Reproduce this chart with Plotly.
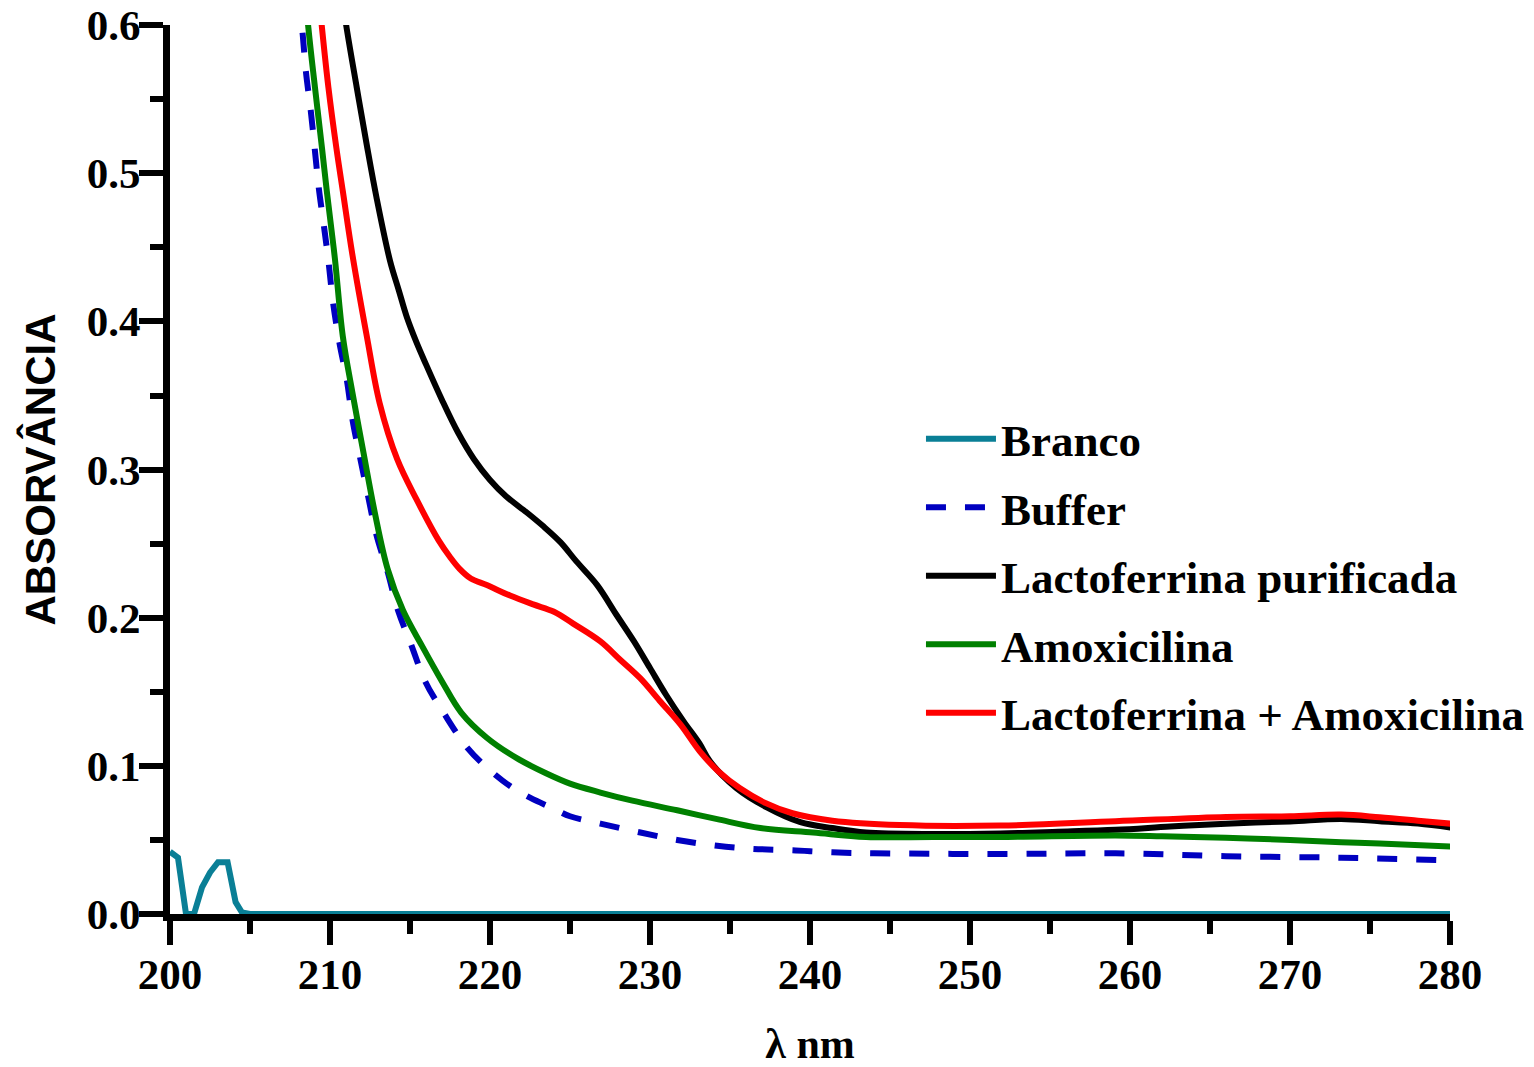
import plotly.graph_objects as go

# Branco
branco_x = [200, 200.5, 201, 201.5, 202, 202.5, 203, 203.6, 204.1, 204.5, 205, 280]
branco_y = [0.042, 0.038, 0.0, 0.0, 0.018, 0.028, 0.035, 0.035, 0.008, 0.001, 0.0, 0.0]

# Buffer
buffer_x = [207.4, 208.3, 208.5, 208.8, 209.06, 209.3, 209.6, 209.9, 210.2, 210.6, 211.06, 211.4, 211.9, 212.4, 212.9,
            213.6, 214.25, 215.1, 215.95, 217.15, 218.6, 220.0, 221.3, 222.5, 224.0, 225.0, 226.9, 229.4, 231.7, 234.2,
            236.4, 238.9, 241.4, 244.0, 251.9, 259.1, 266.0, 273.2, 280.1]
buffer_y = [0.70, 0.593, 0.568, 0.542, 0.515, 0.490, 0.466, 0.441, 0.412, 0.385, 0.360, 0.334, 0.307, 0.281, 0.256,
            0.231, 0.205, 0.181, 0.157, 0.135, 0.112, 0.097, 0.086, 0.0785, 0.071, 0.066, 0.061, 0.055, 0.050, 0.046,
            0.044, 0.043, 0.0416, 0.041, 0.0405, 0.041, 0.039, 0.038, 0.0362]

# Lactoferrina purificada
lacto_x = [209.6, 211.04, 211.67, 212.3, 212.9, 213.75, 214.3, 214.8, 215.4, 216.0, 217.0, 218.0, 219.0, 220.0, 221.0,
           222.3, 223.3, 224.4, 225.4, 226.7, 227.9, 229.0, 230.0, 231.0, 232.1, 233.1, 233.75, 235.4, 237.3, 239.4,
           241.4, 243.5, 247.7, 251.9, 255.5, 259.1, 262.5, 266.0, 270.0, 273.2, 275.6, 278.0, 280.1]
lacto_y = [0.70, 0.598, 0.558, 0.519, 0.484, 0.441, 0.421, 0.403, 0.386, 0.371, 0.347, 0.325, 0.307, 0.293, 0.282,
           0.271, 0.262, 0.251, 0.238, 0.222, 0.202, 0.184, 0.166, 0.148, 0.130, 0.115, 0.103, 0.085, 0.072, 0.062,
           0.058, 0.055, 0.054, 0.0544, 0.0555, 0.0568, 0.059, 0.061, 0.0625, 0.0642, 0.0626, 0.061, 0.0582]

# Amoxicilina
amox_x = [207.8, 208.65, 209.06, 209.5, 209.8, 210.3, 210.8, 211.4, 212.1, 212.8, 213.6, 214.56, 215.75, 217.0, 218.2,
          219.8, 221.7, 223.5, 225.0, 226.9, 228.9, 231.7, 234.2, 236.9, 240.2, 243.5, 247.7, 251.9, 259.1, 262.0,
          266.0, 270.0, 273.2, 275.6, 280.1]
amox_y = [0.70, 0.598, 0.558, 0.517, 0.488, 0.443, 0.390, 0.352, 0.311, 0.271, 0.233, 0.205, 0.181, 0.157, 0.136,
          0.119, 0.105, 0.095, 0.088, 0.082, 0.0765, 0.070, 0.064, 0.058, 0.055, 0.052, 0.052, 0.052, 0.053, 0.0525,
          0.0515, 0.050, 0.0485, 0.0476, 0.0456]

# Lactoferrina + Amoxicilina
mix_x = [208.6, 209.5, 209.9, 210.4, 210.8, 211.4, 212.3, 213.1, 214.2, 215.4, 216.8, 217.5, 218.1, 218.8, 219.8,
         221.25, 222.7, 224.0, 225.2, 226.9, 228.1, 229.4, 230.6, 231.9, 233.1, 234.3, 235.6, 237.2, 238.9, 241.4,
         245.6, 251.9, 259.1, 266.0, 270.0, 273.2, 275.6, 278.0, 280.1]
mix_y = [0.70, 0.598, 0.558, 0.517, 0.488, 0.445, 0.390, 0.345, 0.307, 0.280, 0.252, 0.241, 0.233, 0.2265, 0.222,
         0.215, 0.209, 0.204, 0.196, 0.184, 0.172, 0.159, 0.144, 0.128, 0.110, 0.096, 0.085, 0.075, 0.068, 0.063,
         0.060, 0.0597, 0.0626, 0.0655, 0.066, 0.0671, 0.0653, 0.063, 0.0609]

y_ticks = [0.0, 0.1, 0.2, 0.3, 0.4, 0.5, 0.6]
x_ticks = [200, 210, 220, 230, 240, 250, 260, 270, 280]

serif = "Liberation Serif"
fig = go.Figure()
LW = 6
SM = 1.0
fig.add_trace(go.Scatter(x=branco_x, y=branco_y, mode="lines", name="Branco",
                         line=dict(color="#0A7F96", width=LW), legendgroup="a"))
fig.add_trace(go.Scatter(x=buffer_x, y=buffer_y, mode="lines", name="Buffer",
                         line=dict(color="#0000C0", width=LW, dash="20px,19px", shape="spline", smoothing=SM),
                         legendgroup="b"))
fig.add_trace(go.Scatter(x=lacto_x, y=lacto_y, mode="lines", name="Lactoferrina purificada",
                         line=dict(color="#000000", width=LW, shape="spline", smoothing=SM), legendgroup="c"))
fig.add_trace(go.Scatter(x=amox_x, y=amox_y, mode="lines", name="Amoxicilina",
                         line=dict(color="#008000", width=LW, shape="spline", smoothing=SM), legendgroup="d"))
fig.add_trace(go.Scatter(x=mix_x, y=mix_y, mode="lines", name="Lactoferrina + Amoxicilina",
                         line=dict(color="#FF0000", width=LW, shape="spline", smoothing=SM), legendgroup="e"))

fig.update_layout(
    width=1534, height=1067,
    margin=dict(l=170, r=84, t=25, b=153, autoexpand=False),
    plot_bgcolor="white", paper_bgcolor="white",
    showlegend=True,
    legend=dict(x=0.5867, y=0.5748, xanchor="left", yanchor="top",
                font=dict(family=serif, size=45, color="black", weight="bold"),
                bgcolor="rgba(0,0,0,0)", tracegroupgap=7, itemwidth=70),
    font=dict(family=serif, color="black"),
)
fig.update_xaxes(
    range=[200, 280], tickvals=x_ticks, ticktext=[str(v) for v in x_ticks],
    automargin=False,
    showline=True, linecolor="black", linewidth=7, layer="below traces",
    ticks="outside", ticklen=24, tickwidth=6, tickcolor="black", ticklabelstandoff=-8,
    ticklabeloverflow="allow",
    minor=dict(dtick=5, tick0=200, ticks="outside", ticklen=13, tickwidth=6, tickcolor="black"),
    showgrid=False, zeroline=False,
    tickfont=dict(family=serif, size=43, color="black", weight="bold"),
    title=dict(text="λ nm", font=dict(family=serif, size=42, color="black", weight="bold"), standoff=35),
)
fig.update_yaxes(
    range=[0, 0.6001], tickvals=y_ticks, ticktext=["%.1f" % v for v in y_ticks],
    automargin=False,
    showline=True, linecolor="black", linewidth=7, layer="below traces",
    ticks="outside", ticklen=24, tickwidth=6, tickcolor="black", ticklabelstandoff=-10,
    ticklabeloverflow="allow",
    minor=dict(dtick=0.05, tick0=0, ticks="outside", ticklen=13, tickwidth=6, tickcolor="black"),
    showgrid=False, zeroline=False,
    tickfont=dict(family=serif, size=43, color="black", weight="bold"),
    title=dict(text="ABSORVÂNCIA", font=dict(family="Liberation Sans", size=42, color="black", weight="bold"), standoff=20),
)

fig.write_html("out.html")
